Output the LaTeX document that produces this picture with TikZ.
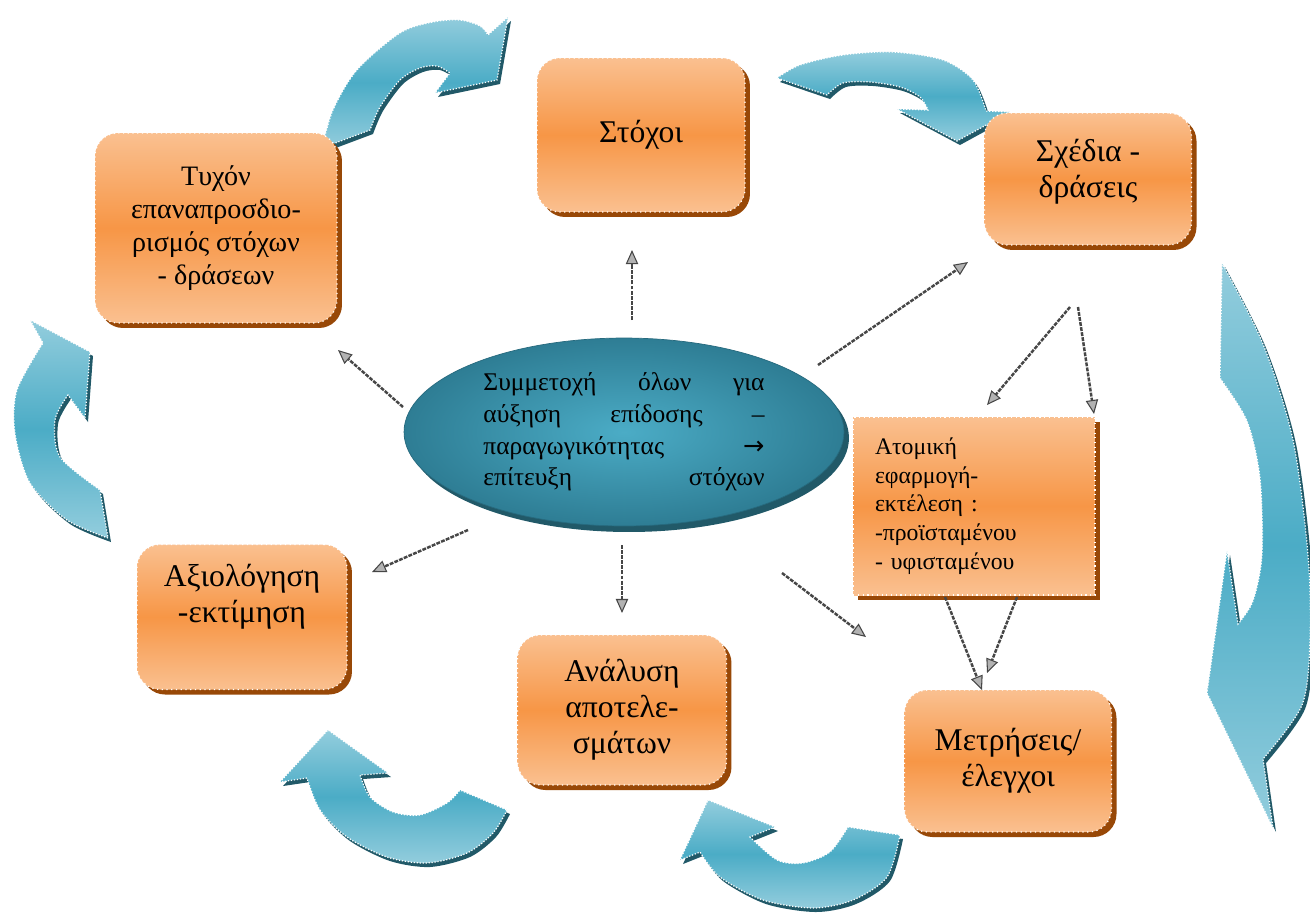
\documentclass[tikz,border=0pt]{standalone}
\usepackage{fontspec}
\setmainfont{Liberation Serif}
\newfontfamily\djv{DejaVu Sans}
\usetikzlibrary{shapes.geometric,arrows.meta}
\definecolor{oL}{HTML}{FAC090}
\definecolor{oM}{HTML}{F79646}
\definecolor{oD}{HTML}{984807}
\definecolor{bL}{HTML}{93CDDD}
\definecolor{bM}{HTML}{4BACC6}
\definecolor{bD}{HTML}{215968}
\definecolor{eIn}{HTML}{4BACC6}
\definecolor{eOut}{HTML}{2E7D94}
\begin{document}
\begin{tikzpicture}[x=0.02cm,y=-0.02cm,
  obox/.style={rounded corners=0.46cm, top color=oL, bottom color=oL, middle color=oM,
    draw=white, dotted, line width=0.7pt, align=center, inner sep=0pt,
    font=\fontsize{18}{20.5}\selectfont,
    preaction={fill=oD, draw=none, transform canvas={shift={(5,5)}}}},
  abox/.style={rectangle, top color=oL, bottom color=oL, middle color=oM,
    draw=white, dotted, line width=0.7pt, align=left, inner xsep=0.44cm, inner ysep=0pt,
    text width=3.96cm, font=\fontsize{13.5}{16.4}\selectfont,
    preaction={fill=oD, draw=none, transform canvas={shift={(5,5)}}}},
  ell/.style={ellipse, inner color=eIn, outer color=eOut, draw=eOut!85!black, line width=0.4pt,
    inner sep=0pt, minimum width=8.8cm, minimum height=3.76cm, align=left,
    font=\fontsize{14.5}{18}\selectfont,
    preaction={fill=bD, draw=none, transform canvas={shift={(5,6)}}}},
  barrow/.style={top color=bL, bottom color=bL, middle color=bM,
    draw=white, densely dotted, line width=0.7pt,
    preaction={fill=bD, draw=none, transform canvas={shift={(3,4)}}}},
  conn/.style={draw=gray!55!black, line width=1.4pt, dash pattern=on 2.2pt off 0.7pt,
    -{Triangle[length=8pt,width=7pt,fill=gray!60,line width=0.6pt]}}
]
\useasboundingbox (0,0) rectangle (1310,914);
\fill[white] (0,0) rectangle (1310,914);

% curved arrows
\path[barrow] plot[smooth] coordinates {(322,148) (333,110) (357,70) (400,33) (433,22) (460,20) (480,26) (488,35)}
  -- (508,17) -- (497,80) -- (435,93) -- (450,73)
  -- plot[smooth] coordinates {(450,73) (437,66) (420,68) (400,80) (380,107) (370,130)} -- cycle;
\path[barrow] plot[smooth] coordinates {(777,78) (800,65) (843,55) (893,52) (943,60) (973,80) (986,111)}
  -- (1010,112) -- (957,141) -- (897,109) -- (928,110)
  -- plot[smooth] coordinates {(928,110) (920,97) (900,87) (870,82) (843,83) (827,95)} -- cycle;
\path[barrow] plot[smooth] coordinates {(1222,263) (1263,344) (1293,440) (1308,555) (1310,640) (1302,705) (1263,759)}
  -- (1273,828) -- (1207,693) -- (1227,551) -- (1238,624)
  -- plot[smooth] coordinates {(1238,624) (1253,601) (1262,555) (1260,478) (1247,421) (1220,378)} -- cycle;
\path[barrow] plot[smooth] coordinates {(900,835) (887,877) (853,900) (813,908) (763,900) (720,877) (700,852)}
  -- (680,860) -- (708,800) -- (775,827) -- (750,837)
  -- plot[smooth] coordinates {(750,837) (777,860) (803,863) (830,852) (848,827)} -- cycle;
\path[barrow] plot[smooth] coordinates {(507,810) (493,833) (467,853) (427,863) (387,857) (347,837) (320,810) (307,778)}
  -- (280,782) -- (328,730) -- (388,773) -- (360,775)
  -- plot[smooth] coordinates {(360,775) (370,797) (393,812) (420,815) (447,803) (460,790)} -- cycle;
\path[barrow] plot[smooth] coordinates {(108,538) (67,520) (30,483) (15,433) (17,390) (43,343)}
  -- (30,320) -- (90,352) -- (85,418) -- (68,395)
  -- plot[smooth] coordinates {(68,395) (55,420) (60,457) (100,490)} -- cycle;

% boxes
\node[obox, minimum width=4.16cm, minimum height=3.08cm] (stoxoi) at (641,135) {Στόχοι};
\node[obox, minimum width=4.14cm, minimum height=2.64cm] (sxedia) at (1088,179) {Σχέδια -\\δράσεις\\[-14pt]\strut};
\node[obox, font=\fontsize{16}{18.7}\selectfont, minimum width=4.84cm, minimum height=3.8cm] (tyxon) at (216,228) {Τυχόν\\επαναπροσδιο-\\ρισμός στόχων\\- δράσεων};
\node[obox, minimum width=4.2cm, minimum height=2.9cm] (axiol) at (242,617) {Αξιολόγηση\\-εκτίμηση\\\strut};
\node[obox, minimum width=4.18cm, minimum height=3.0cm] (anal) at (622,710) {Ανάλυση\\αποτελε-\\σμάτων};
\node[obox, minimum width=4.14cm, minimum height=2.84cm] (metr) at (1008,761) {Μετρήσεις/\\έλεγχοι};
\node[abox, minimum height=3.56cm] (atom) at (974,506) {Ατομική\\εφαρμογή-\\εκτέλεση :\\-προϊσταμένου\\- υφισταμένου};

% central ellipse
\node[ell] (ell) at (624,432) {\makebox[160pt][s]{Συμμετοχή όλων για}\\\makebox[160pt][s]{αύξηση επίδοσης –}\\\makebox[160pt][s]{παραγωγικότητας {\djv →}}\\\makebox[160pt][s]{επίτευξη στόχων}};

% connector end points
\coordinate (c1s) at (632,320); \coordinate (c1e) at (632,250);
\coordinate (c2s) at (818,365); \coordinate (c2e) at (968,262);
\coordinate (c3s) at (403,407); \coordinate (c3e) at (338,350);
\coordinate (c4s) at (468,530); \coordinate (c4e) at (372,572);
\coordinate (c5s) at (622,545); \coordinate (c5e) at (622,613);
\coordinate (c6s) at (782,573); \coordinate (c6e) at (866,637);
\coordinate (c7s) at (1070,307); \coordinate (c7e) at (987,405);
\coordinate (c8s) at (1078,307); \coordinate (c8e) at (1094,414);
\coordinate (c9s) at (945,597); \coordinate (c9e) at (982,690);
\coordinate (c10s) at (1017,597); \coordinate (c10e) at (987,673);

\draw[conn] (c1s) -- (c1e);
\draw[conn] (c2s) -- (c2e);
\draw[conn] (c3s) -- (c3e);
\draw[conn] (c4s) -- (c4e);
\draw[conn] (c5s) -- (c5e);
\draw[conn] (c6s) -- (c6e);
\draw[conn] (c7s) -- (c7e);
\draw[conn] (c8s) -- (c8e);
\draw[conn] (c9s) -- (c9e);
\draw[conn] (c10s) -- (c10e);
\end{tikzpicture}
\end{document}
